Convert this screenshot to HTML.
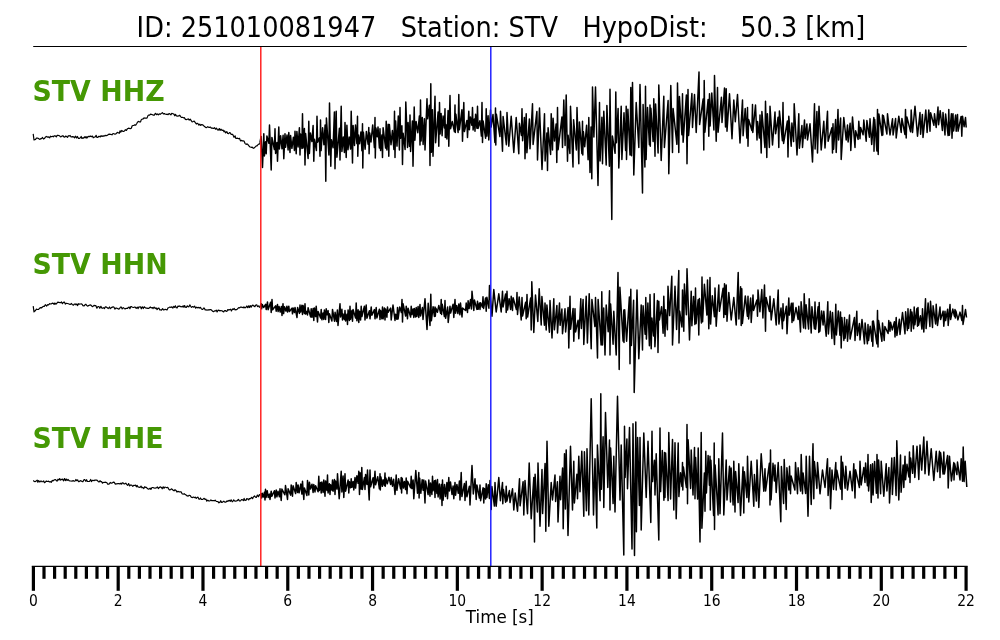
<!DOCTYPE html>
<html><head><meta charset="utf-8"><title>Seismogram</title>
<style>
html,body{margin:0;padding:0;background:#fff;overflow:hidden;}
svg{display:block;will-change:transform;}
text{font-family:"DejaVu Sans","Liberation Sans",sans-serif;fill:#000;}
svg{-webkit-font-smoothing:antialiased;}
.tr{fill:none;stroke:#000;stroke-width:1.5;stroke-linejoin:round;stroke-linecap:butt;}
.q{stroke-width:1.2;}
.lb{font-weight:bold;fill:#459804;font-size:28.1px;}
</style></head>
<body>
<svg width="1000" height="640" viewBox="0 0 1000 640">
<rect width="1000" height="640" fill="#fff"/>
<!-- title -->
<text id="title" transform="translate(136.6,37) scale(0.9253,1)" font-size="27.7px" xml:space="preserve">ID: 251010081947   Station: STV   HypoDist:    50.3 [km]</text>
<!-- top spine -->
<line x1="33.2" x2="966.8" y1="46.5" y2="46.5" stroke="#000" stroke-width="1.15"/>
<!-- traces -->
<polyline class="tr q" points="33.2,133.8 34.0,140.0 35.5,139.5 36.4,138.1 37.3,138.0 38.1,138.3 38.8,138.7 39.7,139.4 40.7,138.7 41.6,138.6 42.5,137.5 43.6,139.0 44.7,138.2 45.6,136.9 46.4,136.4 47.4,137.1 48.5,136.9 49.7,137.8 50.4,136.2 51.5,136.7 52.6,136.3 53.3,136.8 54.4,135.8 55.1,135.8 56.3,136.9 57.0,135.6 57.8,135.2 58.8,135.5 59.8,136.1 60.6,136.8 61.3,136.6 62.1,136.1 62.9,135.7 64.0,137.0 64.8,137.2 65.6,136.0 66.7,136.6 67.5,137.4 68.3,135.7 69.3,136.0 70.1,135.5 70.9,136.8 71.7,136.9 72.6,136.6 73.7,136.8 74.6,137.8 75.4,136.2 76.5,137.9 77.4,136.5 78.4,138.4 79.2,138.5 80.3,137.7 81.2,136.5 81.9,138.5 82.7,137.9 83.5,138.1 84.5,136.8 85.2,137.8 86.0,136.6 86.9,138.1 87.9,136.7 89.0,136.4 89.7,136.6 90.6,136.0 91.4,136.7 92.4,136.1 93.2,137.8 94.4,137.1 95.4,136.7 96.1,135.3 96.8,137.3 97.9,137.3 98.6,136.4 99.5,136.4 100.3,136.9 101.1,135.7 102.1,136.4 103.1,135.8 104.2,136.1 105.0,135.4 106.2,135.7 107.0,135.4 108.1,134.7 109.1,134.1 110.1,134.4 110.8,134.4 112.0,134.8 113.0,133.5 114.0,133.8 114.9,134.2 115.6,133.9 116.4,133.4 117.3,132.4 118.3,132.7 119.3,133.3 120.1,130.8 120.9,132.1 121.7,130.5 122.8,131.3 123.7,131.5 124.6,130.6 125.4,129.7 126.4,130.4 127.5,128.7 128.5,128.2 129.2,128.3 130.3,128.6 131.3,128.2 132.2,125.8 133.1,125.5 133.9,125.3 134.8,124.9 135.7,125.2 136.8,123.5 137.6,122.0 138.6,121.4 139.7,122.0 140.5,122.0 141.2,119.9 142.1,119.1 143.2,118.9 144.0,117.9 144.9,118.2 145.9,118.1 147.0,118.1 148.0,115.6 148.9,115.0 149.6,115.2 150.6,114.1 151.5,114.4 152.5,114.7 153.4,115.2 154.3,115.1 155.4,113.3 156.6,114.7 157.3,113.9 158.3,114.9 159.2,113.9 160.3,114.3 161.4,113.4 162.4,112.6 163.4,114.0 164.4,113.6 165.2,114.0 166.3,114.4 167.3,114.2 168.1,114.7 169.2,113.5 169.9,113.9 170.9,114.9 171.8,113.3 172.9,113.7 173.9,114.1 174.8,115.8 175.5,114.4 176.5,116.0 177.6,116.2 178.7,115.9 179.8,115.2 180.6,116.6 181.4,117.4 182.4,117.3 183.5,117.8 184.3,117.7 185.4,119.4 186.2,119.6 187.4,119.2 188.3,118.9 189.2,120.0 190.2,119.2 191.4,120.8 192.2,121.9 193.2,121.5 194.2,121.0 195.1,122.3 196.3,124.0 197.1,123.3 197.9,123.6 198.9,125.2 199.8,124.2 200.6,125.3 201.7,124.6 202.8,124.8 203.6,125.7 204.6,126.4 205.4,127.3 206.2,127.7 206.9,127.3 207.8,126.7 208.7,127.4 209.6,127.4 210.5,127.0 211.3,128.2 212.3,128.1 213.4,128.4 214.5,127.7 215.5,129.2 216.6,128.2 217.4,129.8 218.2,130.2 219.3,128.6 220.1,130.4 221.0,129.2 222.0,130.4 223.1,130.1 224.0,131.8 224.7,130.9 225.7,133.0 226.8,131.6 227.7,133.5 228.7,133.7 229.5,132.5 230.2,132.8 231.2,134.5 232.1,134.2 232.9,134.8 234.0,137.3 235.1,135.8 235.8,138.3 236.7,138.4 237.6,138.2 238.5,138.7 239.5,138.3 240.5,140.9 241.3,140.4 242.3,140.9 243.1,140.8 244.0,141.0 245.1,143.6 246.1,144.4 247.1,143.9 248.1,144.8 249.2,146.2 250.1,147.0 251.1,147.3 252.2,147.1 253.3,148.3 254.3,147.9 255.3,146.9 256.3,145.9 257.2,145.8 257.9,144.7 258.9,144.1 259.7,143.9 260.0,142.5"/><polyline class="tr" points="260.0,142.5 261.1,136.4 262.5,167.5 263.8,133.8 264.4,155.9 265.6,141.7 266.2,153.8 266.9,136.0 268.9,143.3 269.5,125.0 271.2,170.0 271.9,137.5 274.4,149.6 275.0,128.8 275.6,153.4 276.9,142.5 277.5,161.2 278.8,127.0 279.4,148.9 280.6,135.7 282.0,148.8 283.1,135.3 283.8,158.8 285.0,133.8 285.6,147.2 287.0,135.1 288.1,150.0 288.8,132.5 290.0,152.5 290.6,135.6 291.9,148.3 293.4,137.2 294.4,150.4 295.0,131.2 296.2,153.8 296.9,131.5 298.1,146.9 299.4,127.8 300.0,155.0 300.6,134.1 301.9,148.5 302.5,113.8 303.1,148.0 304.4,128.5 305.0,165.0 305.6,133.5 308.1,158.4 308.8,121.2 309.4,153.4 310.4,133.1 311.9,141.5 313.1,125.5 313.8,161.2 314.4,139.2 316.4,150.6 317.0,116.2 317.6,142.3 319.4,137.8 320.0,156.2 320.5,120.0 321.1,150.6 322.6,127.7 323.9,144.8 325.1,125.0 325.8,181.2 326.4,118.0 328.9,155.0 329.5,103.0 330.8,166.2 331.4,139.7 333.1,147.8 334.4,112.1 335.0,168.8 336.2,111.2 336.9,157.3 339.4,128.3 340.0,160.0 341.2,106.2 341.9,151.4 343.3,137.1 344.4,152.5 345.0,122.5 346.2,157.5 346.9,125.3 348.0,149.8 349.2,137.0 350.6,149.1 351.2,111.2 352.5,163.0 353.1,125.4 354.5,145.4 355.5,125.0 356.9,143.6 357.5,116.2 357.8,156.2 358.4,134.9 359.5,143.7 360.9,132.0 361.9,150.8 362.5,123.8 362.8,168.0 363.4,132.3 365.1,149.3 366.4,131.4 368.1,144.2 368.8,127.5 369.1,153.8 369.7,132.9 371.0,142.0 372.7,124.9 374.4,147.6 375.0,117.5 375.3,158.0 375.9,127.9 377.3,136.8 378.0,127.1 379.4,147.9 380.0,128.8 380.6,150.6 381.9,134.9 382.5,157.5 383.1,127.7 385.6,148.1 386.2,121.2 386.9,150.0 388.1,124.2 388.8,156.2 389.4,124.5 391.0,144.7 392.4,130.6 393.9,149.4 394.5,111.2 395.0,157.5 395.6,120.9 397.0,146.1 398.3,116.0 399.4,150.1 400.0,107.5 400.6,138.2 401.9,125.8 402.5,164.5 403.1,133.2 405.1,149.5 405.8,102.0 407.5,147.5 408.1,122.5 409.4,146.2 410.0,115.0 410.6,151.5 412.4,120.9 413.0,166.2 414.2,107.0 414.9,140.3 416.1,121.4 417.8,132.7 419.4,115.9 420.0,145.0 420.5,100.0 421.1,141.0 422.3,117.5 423.1,144.4 424.4,118.8 425.0,150.0 427.0,98.8 427.6,118.8 429.4,105.2 430.0,165.5 430.8,83.8 431.4,152.2 432.4,109.7 433.0,156.2 435.0,96.2 435.6,142.7 438.1,112.1 438.8,146.2 439.5,102.5 440.1,134.0 441.1,113.6 442.1,135.7 443.1,115.9 444.4,128.0 445.0,108.8 445.3,137.5 445.9,124.6 446.9,138.9 448.1,110.5 448.8,146.2 450.0,95.5 450.6,128.7 452.3,121.6 454.4,131.5 455.0,105.0 455.3,132.5 455.9,114.3 458.1,132.5 458.8,94.5 459.4,129.7 461.9,109.8 462.5,141.2 463.8,102.5 464.4,131.5 466.9,120.5 467.5,137.5 468.8,111.2 469.4,129.7 470.4,117.0 471.9,125.3 472.5,107.5 473.1,130.0 474.4,118.9 475.0,131.2 475.6,114.2 476.9,128.2 477.5,106.2 478.1,128.4 479.9,120.7 481.4,136.1 482.0,102.5 482.5,142.5 483.1,120.9 485.6,138.2 486.2,108.8 486.9,136.1 488.1,115.7 488.8,140.0 490.5,110.0 491.1,127.1 493.0,114.5 494.9,142.5 495.5,108.0 495.8,145.0 496.4,114.3 499.9,136.6 500.5,111.2 502.5,151.2 503.1,116.5 506.4,144.7 507.0,112.5 508.8,146.2 511.2,116.2 513.8,152.5 516.2,117.5 518.8,153.8 519.4,123.3 521.4,135.5 522.0,108.8 522.6,140.8 524.4,117.4 525.0,158.8 526.2,113.8 526.9,152.8 529.4,118.9 530.0,148.8 532.5,103.8 533.1,144.4 536.9,111.4 537.5,160.0 539.5,108.0 542.0,169.5 544.5,113.8 545.1,160.9 546.9,133.0 547.5,170.5 548.1,127.8 550.6,154.5 551.2,113.8 552.5,150.0 553.1,118.2 554.5,140.9 556.1,124.1 556.8,162.5 557.5,107.5 558.1,149.7 561.9,117.0 562.5,147.5 563.8,100.0 565.1,145.5 566.2,95.0 567.5,161.2 568.1,135.3 569.9,153.5 570.5,106.2 573.0,167.0 573.6,119.8 576.4,149.9 577.0,107.5 578.8,163.8 579.4,121.9 581.9,153.6 582.5,121.2 582.8,155.0 583.4,131.7 584.7,146.8 586.6,125.3 588.1,159.8 588.8,117.5 590.0,172.5 591.0,126.9 591.8,178.8 592.5,87.0 593.9,137.1 595.5,87.0 598.0,185.5 599.5,102.5 600.1,161.0 601.9,117.2 602.5,163.8 603.8,111.2 606.2,165.0 606.9,105.6 609.4,166.2 610.0,89.2 611.8,219.5 612.4,136.0 615.1,153.3 615.8,92.0 616.4,142.7 618.1,108.5 618.8,168.0 621.2,106.2 621.9,159.4 624.0,112.8 625.6,150.4 626.2,106.2 626.5,159.5 627.9,109.2 630.0,155.0 630.8,87.5 631.5,155.8 632.5,82.5 633.8,175.0 636.2,102.5 638.8,147.5 640.0,84.5 642.5,193.0 643.1,104.6 644.9,167.1 645.5,86.2 646.1,159.5 647.5,107.4 649.4,144.7 650.0,105.0 650.3,146.2 650.9,108.3 653.1,141.5 653.8,98.8 655.0,156.2 655.6,104.1 658.1,153.0 658.8,85.0 661.2,160.5 663.8,96.2 664.4,147.4 668.1,100.5 668.8,173.8 670.8,85.5 672.5,152.5 673.1,108.5 676.9,144.3 677.5,83.0 678.8,152.5 679.4,96.4 681.9,134.7 682.5,93.8 683.1,142.2 686.4,94.9 687.0,163.8 688.0,89.5 688.6,135.4 691.9,93.5 692.5,127.5 694.5,94.5 696.2,132.5 699.0,72.0 699.6,124.6 703.1,99.0 703.8,150.0 704.2,80.5 704.9,132.3 708.1,99.5 708.8,136.2 709.5,93.8 710.1,126.0 711.8,93.1 713.9,130.0 714.5,75.5 716.2,141.2 717.5,87.5 718.1,132.3 721.4,97.3 722.0,122.5 724.5,88.0 725.5,126.9 726.2,88.8 727.0,131.2 729.5,93.8 732.0,138.8 733.8,100.0 735.3,121.7 737.5,94.5 740.0,143.0 742.5,100.0 743.1,135.7 745.2,108.5 746.9,138.1 747.5,107.5 748.0,146.2 748.6,119.5 751.9,130.5 752.5,104.5 752.8,132.5 755.5,105.0 757.0,140.0 757.6,121.6 759.4,138.1 760.0,115.0 761.2,153.0 761.9,111.6 764.9,147.5 765.5,101.2 766.8,157.5 767.4,113.7 769.4,147.4 770.0,106.2 772.5,145.0 775.0,112.0 775.6,133.7 778.1,117.2 778.8,147.5 779.4,110.9 782.4,140.7 783.0,102.5 783.6,143.5 787.4,120.9 788.0,157.0 788.8,116.2 791.2,146.2 791.9,123.1 793.6,141.6 794.2,103.8 797.0,155.0 798.8,113.8 799.4,148.2 801.9,125.6 802.5,147.5 804.5,120.0 805.1,138.6 806.9,123.9 807.5,140.0 810.0,123.8 812.5,162.0 814.5,103.8 815.1,149.0 816.9,111.6 817.5,153.0 819.0,106.2 821.2,150.0 823.8,121.2 825.0,148.0 827.5,111.2 828.1,141.3 831.9,127.7 832.5,153.0 833.0,123.8 833.6,149.3 835.6,119.5 836.2,152.5 838.0,109.5 838.6,139.9 840.6,117.9 841.2,159.5 843.8,117.5 846.2,140.0 847.5,125.0 848.1,141.9 850.1,123.3 850.8,150.5 852.5,117.0 855.0,147.5 855.6,130.7 858.1,139.4 858.8,121.2 860.0,138.8 860.6,127.5 863.1,134.8 863.8,120.0 866.2,141.2 866.9,120.5 869.4,137.2 870.0,118.8 871.7,144.4 873.8,117.5 874.0,151.2 874.7,119.6 876.9,151.0 877.5,109.5 878.2,154.5 878.9,114.0 881.9,135.4 882.5,115.0 882.8,135.0 883.4,115.7 886.9,134.0 887.5,113.8 890.0,135.0 892.5,118.8 893.1,135.0 895.6,118.5 896.2,138.0 898.8,116.2 901.2,132.5 901.9,118.5 904.9,134.4 905.5,109.5 906.2,138.0 906.9,116.9 910.6,131.8 911.2,110.0 912.5,132.5 915.0,106.2 917.5,136.2 920.0,112.5 920.6,134.3 922.4,114.4 923.0,137.5 925.8,110.0 927.1,132.4 928.8,110.0 930.0,131.2 930.6,112.7 933.9,125.2 934.5,113.8 936.2,127.5 938.0,107.0 938.6,124.7 940.2,110.7 942.4,130.5 943.0,112.5 945.0,135.0 945.6,114.1 948.1,135.6 948.8,109.5 949.4,135.2 951.4,113.8 952.0,138.2 953.0,113.8 953.6,130.9 955.6,115.1 956.2,131.2 957.5,114.5 958.1,131.2 961.1,116.4 961.8,136.2 962.5,116.2 964.1,126.7 965.5,117.5 966.2,127.5"/>
<polyline class="tr q" points="33.2,306.2 34.0,311.8 35.5,310.5 36.4,309.2 37.5,309.5 38.6,309.3 39.7,308.1 40.8,307.6 41.6,307.9 42.4,307.0 43.5,306.3 44.3,306.5 45.3,304.7 46.0,305.3 46.7,306.0 47.7,304.7 48.6,304.8 49.7,303.6 50.5,304.0 51.4,303.8 52.3,303.1 53.3,303.3 54.1,304.4 54.9,303.0 55.8,304.2 56.9,303.2 57.8,302.1 58.9,302.3 59.9,302.7 60.7,302.7 61.5,301.9 62.4,303.7 63.4,302.4 64.4,302.1 65.3,304.1 66.4,303.3 67.5,303.5 68.4,303.8 69.6,304.3 70.5,304.3 71.5,303.5 72.5,304.8 73.5,305.2 74.2,304.2 75.2,303.9 76.0,304.8 76.9,303.9 77.6,305.6 78.5,303.7 79.3,304.1 80.4,304.0 81.2,303.9 82.1,304.3 82.9,305.6 84.1,306.0 84.8,304.9 85.9,304.2 86.6,305.4 87.5,306.1 88.5,305.6 89.4,305.2 90.2,304.9 91.2,305.3 92.3,306.6 93.0,306.4 94.0,305.4 94.9,305.6 95.9,305.7 96.9,308.2 98.0,306.5 98.9,306.5 99.8,308.3 100.9,306.3 101.7,307.9 102.5,308.3 103.6,307.7 104.5,308.5 105.4,306.9 106.2,306.9 107.3,307.7 108.3,308.5 109.5,307.0 110.3,308.7 111.4,307.6 112.4,307.1 113.2,306.8 114.0,307.3 115.0,309.1 115.7,308.1 116.8,308.2 117.8,308.6 118.5,309.1 119.5,308.7 120.5,307.0 121.3,307.1 122.2,308.9 123.3,307.6 124.3,308.4 125.1,308.9 126.3,308.3 127.4,308.5 128.4,307.3 129.2,307.1 129.9,308.7 130.8,306.5 131.6,306.7 132.5,307.2 133.3,307.5 134.2,307.2 135.2,307.1 136.2,308.4 137.3,307.2 138.0,308.6 139.0,306.9 139.7,307.0 140.5,306.8 141.3,308.8 142.3,306.8 143.3,308.5 144.2,306.8 145.0,307.5 146.1,308.1 147.1,308.2 147.8,308.4 148.8,308.4 149.7,307.5 150.4,307.0 151.2,308.0 152.2,307.5 153.1,308.5 154.1,307.1 155.2,308.5 156.1,307.8 157.1,309.6 157.9,308.4 158.9,308.0 159.8,309.9 160.7,309.8 161.5,310.1 162.6,308.7 163.5,309.9 164.5,309.6 165.3,309.3 166.2,309.7 167.0,309.9 168.0,307.9 168.9,307.5 169.9,307.0 170.9,307.5 171.9,306.8 172.9,308.0 173.7,306.4 174.6,307.4 175.4,305.8 176.3,307.7 177.1,307.9 178.0,306.0 178.8,306.4 179.7,305.9 180.4,306.6 181.2,306.5 182.1,307.0 183.1,305.8 183.9,307.3 184.6,305.5 185.3,307.1 186.3,307.3 187.3,305.8 188.1,306.7 188.9,306.8 189.8,304.9 190.7,306.3 191.5,307.3 192.6,306.5 193.7,307.2 194.6,306.1 195.7,308.2 196.7,307.1 197.4,307.8 198.5,307.4 199.3,308.1 200.4,307.3 201.2,308.6 201.9,309.2 202.7,309.5 203.6,308.1 204.4,308.2 205.2,309.9 206.2,309.9 207.1,310.2 208.1,309.7 208.8,310.1 209.6,309.7 210.5,309.5 211.6,310.1 212.7,311.3 213.4,311.7 214.5,310.9 215.6,310.9 216.3,310.2 217.1,311.9 218.2,310.2 219.1,310.3 219.9,310.9 220.8,310.5 221.8,310.8 222.9,311.4 223.7,311.9 224.6,310.5 225.4,310.5 226.2,311.4 227.0,311.2 227.8,309.5 228.7,310.1 229.8,309.5 230.6,309.2 231.4,311.0 232.5,309.0 233.2,309.5 234.2,308.5 235.1,309.9 235.8,309.6 236.8,309.6 237.7,308.7 238.7,307.7 239.6,307.8 240.4,307.2 241.2,307.1 242.1,307.3 243.1,307.8 243.9,306.8 244.9,307.9 245.9,307.3 246.8,306.0 247.7,307.7 248.5,305.9 249.4,307.5 250.2,305.6 251.1,307.3 252.0,305.6 253.0,305.1 253.9,306.1 254.9,306.6 255.8,305.0 256.7,304.8 257.5,306.6 258.6,305.9 259.4,307.3 260.0,307.0"/><polyline class="tr" points="260.0,307.0 261.2,303.8 261.6,308.8 262.2,304.4 263.6,307.5 265.6,304.3 266.2,309.5 267.5,302.0 268.1,309.7 270.6,302.3 271.2,312.5 272.0,299.5 272.6,309.7 275.6,305.9 276.2,311.2 277.5,304.5 278.1,311.6 279.1,306.6 280.2,312.0 281.4,306.5 282.0,315.5 283.0,303.8 283.6,313.6 284.5,306.8 285.9,311.1 286.9,306.2 287.5,312.0 288.8,306.2 289.4,311.6 291.9,308.2 292.5,313.8 293.1,307.9 294.4,312.5 295.0,307.5 297.0,317.5 297.6,307.5 299.4,313.4 300.0,305.0 300.6,312.1 301.9,305.3 302.5,314.5 303.1,305.6 304.4,313.5 305.0,303.8 305.6,314.1 306.9,311.4 307.5,315.0 308.1,307.8 310.6,316.9 311.2,308.8 311.9,317.3 313.1,308.6 313.8,320.5 314.4,307.9 315.6,316.6 316.2,306.2 317.5,322.0 318.1,311.6 320.6,318.1 321.2,309.5 321.9,319.8 323.1,312.9 323.8,319.5 324.4,310.0 325.6,319.4 326.2,308.8 326.9,314.8 328.1,310.6 328.8,322.5 329.4,313.8 331.9,321.0 332.5,309.5 334.5,321.2 335.1,312.3 336.5,321.5 337.4,309.9 338.0,325.5 340.0,303.8 340.6,316.9 341.9,309.3 342.5,320.0 343.1,314.1 344.4,319.5 345.0,310.5 345.6,320.9 346.9,314.3 347.5,324.5 348.1,309.9 349.4,320.4 350.0,306.2 350.6,319.2 351.9,310.5 352.5,321.2 353.1,309.6 355.6,318.1 356.2,303.0 356.9,320.8 358.1,309.8 358.8,322.5 359.4,311.2 360.6,320.0 361.2,306.2 361.9,316.5 364.4,306.2 365.0,320.0 366.2,305.0 366.9,318.3 369.4,310.8 370.0,318.8 371.2,307.0 371.9,315.3 374.4,309.6 375.0,318.8 376.2,307.5 376.9,317.9 379.4,309.2 380.0,319.5 380.6,310.4 381.9,318.8 382.5,307.0 383.1,318.8 384.4,307.9 385.0,320.0 385.6,308.9 386.9,317.2 387.5,307.0 388.1,312.3 390.6,308.1 391.2,320.0 393.0,305.0 395.0,320.5 395.6,314.2 396.9,319.2 397.5,307.5 398.1,318.9 399.7,306.9 401.4,312.6 402.0,299.5 402.5,322.0 403.1,303.8 405.6,316.0 406.2,306.2 407.5,318.8 408.1,308.2 410.6,317.1 411.2,306.2 411.9,314.6 413.1,308.9 413.8,317.5 414.4,308.5 415.6,316.9 416.2,307.5 416.9,316.5 418.1,306.6 418.8,317.5 420.0,304.5 420.6,315.9 422.4,307.6 423.0,319.5 425.0,298.8 427.0,329.5 428.2,303.2 430.0,325.5 430.8,294.2 431.4,320.7 433.1,306.7 434.4,316.4 435.0,307.0 435.3,316.2 435.9,308.3 437.4,312.3 438.8,305.4 440.6,313.3 441.2,299.5 441.6,314.5 442.2,304.2 444.4,316.6 445.0,300.5 445.6,318.3 447.6,307.1 448.2,322.5 450.0,306.2 450.6,313.1 453.1,304.3 453.8,317.5 455.0,299.5 455.6,313.2 456.7,305.6 457.9,313.6 458.8,304.0 459.9,314.8 460.5,303.0 462.0,317.0 462.6,308.1 465.6,310.5 466.2,303.0 467.5,312.5 468.1,300.7 469.1,308.6 470.5,299.6 471.4,309.0 472.0,291.2 473.8,310.5 474.4,300.0 476.9,309.4 477.5,301.2 478.1,309.3 479.4,303.1 480.0,309.5 480.6,302.8 482.4,307.1 483.0,296.8 483.6,308.4 485.6,297.9 486.2,311.2 486.9,297.3 488.9,308.2 489.5,285.5 492.0,316.2 493.8,289.5 496.2,312.0 498.8,293.8 501.2,312.0 502.5,291.2 503.1,306.9 505.6,293.9 506.2,312.5 507.0,291.2 507.6,309.9 509.1,298.7 510.6,309.4 511.2,296.2 512.5,310.5 513.1,297.8 516.4,309.5 517.0,292.5 517.5,314.5 519.2,296.9 521.2,320.0 522.0,297.5 522.6,315.9 525.6,302.3 526.2,318.8 527.0,294.5 527.6,317.1 530.6,298.0 531.2,330.0 531.8,281.8 533.8,332.5 535.5,295.0 537.8,321.5 539.2,288.8 541.2,325.0 541.9,296.5 544.4,325.2 545.0,303.0 546.2,330.0 546.9,304.9 549.4,332.3 550.0,300.5 552.0,338.0 553.8,298.8 554.4,329.8 556.9,305.4 557.5,333.0 559.5,303.0 560.1,325.3 561.9,309.1 562.5,333.8 565.0,308.8 565.6,332.0 568.1,307.5 568.8,348.0 570.0,296.2 570.6,329.2 573.1,308.4 573.8,341.2 575.0,308.8 575.6,331.9 578.1,320.2 578.8,338.8 580.8,298.8 581.4,328.4 583.1,299.4 583.8,344.5 586.2,296.2 587.4,342.9 589.2,293.8 591.2,348.8 591.9,299.4 594.9,326.6 595.5,297.5 597.5,358.0 598.1,299.4 601.1,344.9 601.8,291.8 602.5,345.0 603.7,308.0 605.0,355.0 606.2,305.0 608.2,331.7 609.5,290.8 610.0,355.0 610.6,304.0 613.1,344.2 613.8,311.2 616.2,355.0 618.0,272.5 619.2,369.5 619.9,287.2 623.1,341.1 623.8,310.0 624.0,342.5 624.7,309.8 626.6,341.2 629.4,296.9 630.0,363.8 630.8,289.2 631.4,345.4 633.6,300.2 634.2,392.5 637.0,290.0 638.8,358.8 641.2,305.0 642.5,350.0 643.1,305.7 645.1,334.2 645.8,297.5 646.4,339.1 647.9,303.0 649.4,345.8 650.0,294.5 651.2,348.8 651.9,318.0 653.6,335.9 654.2,293.8 654.9,346.8 657.4,300.6 658.0,352.5 658.8,301.2 659.4,320.0 661.6,306.7 663.1,333.2 663.8,296.2 665.0,336.2 665.6,309.7 667.4,329.8 668.0,286.2 669.6,315.6 671.8,276.2 672.5,345.0 675.0,286.2 676.6,329.5 678.8,270.5 679.0,343.0 679.7,311.3 681.9,327.0 682.5,290.0 683.8,331.2 684.4,284.1 686.4,314.8 687.0,268.8 689.5,340.0 691.2,291.2 691.9,325.7 693.5,296.4 694.9,324.4 695.5,288.0 696.1,323.6 698.1,299.8 698.8,335.0 699.4,298.6 701.4,322.9 702.0,277.0 702.6,321.8 704.4,284.2 706.9,315.1 707.5,280.0 708.8,328.8 710.0,277.5 710.6,324.1 712.3,295.7 714.4,316.7 715.0,288.0 716.2,326.2 718.8,285.0 719.4,311.3 723.1,288.2 723.8,317.5 724.5,283.8 725.4,314.5 726.2,285.0 727.0,321.2 728.8,292.5 731.2,320.0 733.8,297.5 736.2,325.0 738.2,272.5 738.9,318.9 740.6,286.8 741.2,325.5 741.8,288.8 742.4,323.5 745.3,295.9 747.4,316.2 748.0,296.2 748.6,318.9 750.6,298.1 751.2,322.5 753.0,295.0 753.6,310.4 756.9,299.9 757.5,316.2 758.0,290.0 759.9,311.8 761.8,289.5 762.9,317.9 764.5,285.0 765.5,331.2 766.1,297.5 769.4,311.4 770.0,296.2 771.2,320.0 773.8,298.8 776.2,325.0 778.2,290.0 778.9,324.1 781.0,308.1 782.4,328.7 783.0,303.8 783.6,320.7 786.4,306.2 787.0,333.8 788.8,298.0 789.4,315.1 791.4,303.3 792.0,322.5 793.0,303.0 793.6,320.7 796.0,307.5 798.1,319.4 798.8,306.2 800.5,332.0 801.1,301.7 803.6,327.9 804.2,293.8 805.5,328.8 806.1,304.8 808.6,329.1 809.2,298.8 811.2,333.0 811.9,306.7 814.4,328.7 815.0,302.0 815.6,329.2 818.1,306.8 818.8,332.5 819.2,302.5 819.9,331.3 821.6,311.0 823.1,325.0 823.8,311.2 826.2,336.2 827.8,301.8 828.4,334.0 830.3,311.3 831.9,338.5 832.5,312.5 834.5,344.5 835.8,304.2 836.4,334.9 838.3,310.9 839.9,335.3 840.5,312.0 841.2,348.0 841.9,317.6 843.9,340.4 844.5,317.5 845.1,338.3 846.9,319.6 847.5,341.2 849.5,315.0 850.1,339.0 854.4,317.6 855.0,340.5 856.8,311.2 857.4,335.5 859.4,323.6 860.0,340.0 862.0,319.5 864.5,343.8 865.1,323.1 867.4,343.8 868.0,324.5 868.6,340.5 870.2,326.3 871.9,341.5 872.5,321.2 872.8,346.2 873.4,321.1 876.9,343.8 877.5,310.5 878.0,347.0 878.6,320.6 881.9,341.3 882.5,323.0 884.2,340.5 884.9,326.5 888.1,333.5 888.8,320.5 890.0,331.2 890.6,322.3 892.3,329.9 894.4,321.8 895.0,337.0 896.2,317.5 896.9,335.5 899.4,319.2 900.0,334.5 902.5,312.5 905.0,333.8 905.6,311.8 907.4,330.4 908.0,308.8 908.6,328.3 910.6,309.4 911.2,331.2 911.9,311.9 913.6,328.7 914.2,307.0 914.9,324.7 916.9,308.5 917.5,326.2 918.0,307.5 918.6,325.2 920.4,315.8 921.9,329.1 922.5,308.8 923.8,332.0 925.5,298.8 926.1,328.6 928.1,302.9 929.9,326.5 930.5,301.2 932.5,327.5 933.1,305.8 935.6,323.9 936.2,304.2 937.5,325.5 940.0,307.0 940.6,319.5 943.1,311.1 943.8,326.2 945.0,311.2 945.6,320.6 947.6,309.3 948.2,325.5 950.0,304.5 950.6,319.5 952.8,309.1 954.4,316.2 955.0,309.5 955.3,318.0 955.9,310.9 957.9,319.9 960.0,312.1 961.9,320.6 962.5,305.5 963.0,324.5 965.5,309.5 966.5,317.5"/>
<polyline class="tr q" points="33.2,480.5 34.1,481.2 35.0,481.6 36.2,481.0 37.2,480.1 37.9,482.3 38.7,480.6 39.8,482.0 40.6,481.1 41.4,481.1 42.1,481.8 42.9,481.5 43.7,480.9 44.4,482.7 45.5,482.0 46.2,481.0 47.0,481.5 47.7,481.4 48.5,481.2 49.5,481.9 50.4,481.6 51.3,482.3 52.2,480.4 53.1,480.9 54.1,480.0 55.2,479.5 56.2,480.3 57.0,481.2 58.0,479.2 59.0,480.0 59.7,478.6 60.6,480.1 61.6,479.4 62.5,479.1 63.6,480.8 64.5,478.6 65.4,480.6 66.2,479.0 67.0,480.5 68.0,479.5 69.0,480.7 70.1,481.0 71.0,481.0 72.1,481.2 73.1,480.6 74.1,481.3 75.1,481.0 75.9,479.5 76.7,480.7 77.6,479.8 78.4,481.6 79.2,481.6 80.2,480.7 81.4,481.0 82.1,481.6 82.9,481.6 84.0,479.7 84.7,479.5 85.8,481.3 86.6,479.7 87.4,481.4 88.5,481.5 89.6,481.3 90.7,479.5 91.4,481.6 92.4,480.3 93.1,480.3 94.0,480.7 94.9,480.0 95.6,480.2 96.4,480.1 97.3,480.4 98.3,481.6 99.2,482.0 100.0,480.7 100.8,481.7 101.6,481.6 102.5,483.2 103.2,482.5 104.1,482.3 105.1,482.3 105.8,482.2 106.9,482.7 107.7,484.2 108.7,484.2 109.5,483.8 110.2,482.5 111.3,483.1 112.4,482.8 113.5,482.1 114.4,482.4 115.2,484.1 116.1,483.9 116.9,483.8 118.1,483.5 118.9,483.6 120.0,484.0 120.9,483.1 121.6,484.1 122.4,482.9 123.1,482.9 124.0,483.8 124.8,483.8 125.8,483.2 126.6,484.3 127.7,485.4 128.6,483.6 129.7,485.9 130.8,484.9 131.7,485.2 132.8,486.4 133.7,485.3 134.5,485.5 135.5,485.1 136.4,486.8 137.2,485.4 138.0,487.0 138.9,487.1 140.0,487.5 141.0,486.1 141.9,487.8 142.7,487.4 143.8,488.5 144.7,486.7 145.4,487.3 146.4,487.4 147.4,488.6 148.4,489.2 149.3,488.9 150.1,488.2 150.9,489.4 152.0,487.5 153.0,487.5 153.9,488.0 155.0,488.2 155.9,487.9 156.7,487.6 157.5,487.0 158.4,488.6 159.4,487.4 160.6,486.9 161.4,487.4 162.2,488.8 163.2,486.8 164.0,488.3 164.9,487.0 165.7,487.3 166.7,487.6 167.7,487.3 168.6,488.9 169.4,489.9 170.6,489.7 171.4,488.8 172.4,489.5 173.2,490.3 174.0,490.8 175.0,489.7 176.0,490.4 176.9,492.0 178.0,491.4 179.0,491.8 180.2,491.8 181.2,491.9 182.1,493.8 183.2,494.2 184.2,493.7 185.2,494.6 186.1,495.1 187.2,495.9 188.2,496.1 189.2,495.3 190.2,495.6 191.3,497.2 192.4,497.6 193.4,497.0 194.3,497.6 195.4,497.2 196.2,498.4 197.3,497.3 198.0,497.2 199.0,499.2 199.8,499.2 200.5,498.0 201.5,499.5 202.4,499.5 203.2,499.0 204.2,498.3 205.0,499.3 206.0,499.1 206.8,501.2 207.8,500.1 208.8,501.0 209.9,500.9 210.9,499.9 211.8,500.7 212.6,500.7 213.7,500.5 214.4,500.8 215.2,500.1 216.3,501.5 217.0,501.5 217.8,501.5 218.9,502.8 219.8,502.4 220.7,500.7 221.6,502.4 222.7,502.1 223.8,501.1 224.8,502.1 225.9,502.1 227.0,500.8 227.9,501.4 228.6,500.6 229.5,500.3 230.3,501.3 231.1,499.8 232.2,501.8 233.0,501.1 233.7,499.9 234.5,500.9 235.5,501.2 236.5,501.0 237.6,500.4 238.4,499.4 239.4,500.8 240.4,501.0 241.5,499.6 242.3,499.6 243.4,500.6 244.1,498.4 245.0,500.5 246.1,500.2 246.8,498.6 247.9,499.0 248.7,499.9 249.4,498.6 250.5,498.7 251.6,497.3 252.6,498.7 253.3,497.1 254.5,496.0 255.5,497.1 256.3,497.4 257.4,495.1 258.5,496.7 259.4,494.5 260.0,495.5"/><polyline class="tr" points="260.0,495.5 261.2,493.8 261.6,498.0 262.2,493.2 263.3,497.0 264.4,492.3 265.0,500.0 265.5,489.2 266.1,497.5 267.2,490.7 268.2,497.4 269.4,494.1 270.0,499.5 271.2,491.2 271.9,496.3 274.4,490.7 275.0,498.0 276.2,490.0 276.9,496.8 278.0,491.3 279.4,496.8 280.0,488.8 281.2,500.5 281.9,489.1 284.9,494.8 285.5,485.5 287.5,499.5 288.1,488.7 290.6,495.1 291.2,485.0 292.5,496.2 293.1,485.8 295.6,493.6 296.2,482.5 297.5,492.5 298.1,484.9 299.1,492.8 300.8,484.1 301.9,494.1 302.5,481.2 303.8,499.5 304.4,487.9 306.9,495.5 307.5,480.5 308.8,495.0 309.4,482.2 310.5,489.1 312.0,484.2 313.1,492.4 313.8,484.5 315.0,492.0 315.6,485.7 318.1,491.8 318.8,476.2 319.4,490.5 320.6,482.6 321.2,493.0 321.9,481.9 323.1,492.4 323.8,480.0 325.0,496.2 325.6,480.9 326.9,490.4 327.5,475.0 328.1,493.0 329.4,483.7 330.0,494.5 330.6,484.7 331.9,490.2 332.5,480.0 333.1,491.2 334.4,479.6 335.0,494.5 335.6,481.0 336.9,489.1 337.5,473.8 339.2,498.8 341.2,471.2 341.9,492.0 343.1,476.1 343.8,497.5 345.0,473.8 345.6,491.2 348.1,480.1 348.8,493.0 349.4,481.7 350.6,487.8 351.2,478.8 351.9,487.3 353.1,481.4 353.8,490.0 355.0,477.5 355.6,488.1 356.9,475.8 358.1,483.3 358.8,471.2 359.5,494.5 360.1,472.7 361.1,489.1 361.8,467.5 362.4,489.5 364.4,477.5 365.0,489.5 365.6,474.4 366.9,484.5 367.5,470.0 369.2,500.0 370.0,470.0 370.6,486.8 373.1,477.7 373.8,488.0 375.0,471.2 375.6,484.7 377.7,476.7 379.4,488.8 380.0,473.8 380.3,490.0 380.9,476.9 382.3,486.3 383.1,479.8 384.4,485.5 385.0,473.0 385.3,486.2 385.9,478.1 387.3,483.8 388.9,477.2 390.6,484.4 391.2,477.5 392.5,486.2 393.6,479.3 395.0,494.5 396.2,475.0 396.9,490.3 398.6,478.7 400.6,488.8 401.2,477.5 401.6,493.0 402.2,478.3 403.5,488.1 404.4,481.4 405.6,489.6 406.2,478.0 407.0,493.8 407.6,481.2 410.6,487.7 411.2,476.2 411.9,488.6 413.1,480.1 413.8,498.8 415.8,470.5 417.5,493.3 418.8,472.5 419.1,498.0 419.7,478.3 420.8,493.3 422.2,479.7 423.1,490.3 423.8,480.0 425.0,503.0 425.6,481.1 428.1,494.6 428.8,480.0 430.0,496.2 430.6,483.0 431.9,494.4 432.5,476.2 433.1,490.7 434.4,480.8 435.0,497.5 435.6,480.3 436.9,493.4 437.5,479.5 438.1,496.9 439.4,483.9 440.1,498.9 441.4,484.6 442.0,505.5 442.5,480.0 443.1,500.2 444.5,484.4 445.5,496.5 446.9,482.6 447.5,498.8 448.8,477.5 449.4,491.0 450.5,482.0 452.0,494.5 453.1,486.1 453.8,498.8 455.0,482.5 455.6,495.2 456.9,484.4 458.3,493.3 459.4,481.0 460.0,500.0 461.2,472.5 461.9,496.6 464.4,483.6 465.0,500.5 466.2,481.2 466.9,496.8 469.4,486.2 470.0,505.0 472.0,465.5 473.3,494.0 475.0,478.8 476.2,499.5 476.9,485.0 479.4,498.0 480.0,485.0 480.6,500.7 483.1,487.7 483.8,503.0 484.4,488.4 485.6,498.9 486.2,483.8 486.9,497.4 488.3,484.7 489.4,498.4 490.0,480.5 491.2,509.5 491.9,486.5 494.4,506.1 495.0,482.5 496.2,506.2 498.8,477.5 500.4,500.7 502.5,482.5 502.8,503.8 503.4,489.4 505.6,502.2 506.2,486.2 506.9,501.1 509.4,490.6 510.0,502.5 512.5,488.8 513.8,510.0 515.2,493.1 517.5,511.2 519.5,478.8 520.1,505.8 523.1,481.7 523.8,515.0 525.0,480.5 527.5,513.8 529.2,463.0 531.2,518.8 533.8,477.5 534.5,542.0 535.1,474.3 537.4,512.0 538.0,463.0 540.0,526.2 542.0,469.5 542.6,513.6 545.1,463.4 545.8,531.2 547.0,441.2 548.8,526.2 551.2,482.5 552.5,500.0 555.0,475.0 555.6,501.4 557.4,481.8 558.0,522.0 560.0,476.2 560.6,499.7 562.6,467.9 563.2,528.8 564.5,453.8 565.4,509.1 566.2,450.0 568.0,535.5 570.5,446.2 572.5,510.0 573.8,461.2 574.4,502.9 576.9,474.3 577.5,498.8 578.8,456.2 580.0,491.7 581.8,451.2 583.8,516.2 584.4,451.7 586.4,510.7 587.0,448.8 588.8,515.0 591.2,398.8 593.5,514.9 595.0,458.8 596.8,528.0 597.4,444.9 600.1,500.8 600.8,393.8 601.4,489.3 603.1,436.8 603.8,507.5 605.5,412.5 607.8,487.5 609.5,440.0 610.0,510.0 610.6,448.1 613.1,503.6 613.8,456.2 615.0,512.0 617.5,396.2 620.0,500.0 621.2,445.0 623.8,555.0 624.5,426.2 625.1,477.4 626.9,439.1 627.5,488.8 629.5,427.5 632.0,549.0 633.0,423.8 634.5,555.5 635.8,422.0 636.4,531.7 637.6,437.6 639.4,505.5 640.0,437.5 641.2,530.0 643.8,433.0 646.2,497.5 648.0,441.2 650.8,522.5 652.0,431.2 652.6,481.6 654.4,460.3 655.0,495.0 656.2,453.8 658.8,540.0 660.0,428.0 660.6,491.6 662.3,450.6 663.9,500.2 664.5,452.5 665.0,497.5 665.6,453.0 668.1,500.6 668.8,432.5 670.6,498.9 672.5,439.5 673.8,510.0 675.0,442.8 676.2,518.8 678.2,443.0 678.9,496.6 680.5,472.8 681.9,486.5 682.5,462.5 682.8,490.0 683.4,467.1 686.4,487.5 687.0,424.5 687.5,503.8 688.1,439.7 690.6,488.4 691.2,450.0 693.0,495.0 694.5,447.5 695.0,498.8 695.6,457.6 697.6,499.1 698.2,448.0 700.0,542.0 701.2,432.5 701.9,528.2 704.4,472.9 705.0,511.2 705.8,451.2 706.4,493.0 708.1,455.5 709.4,485.3 710.0,456.2 710.3,510.0 710.9,460.3 713.6,515.5 714.2,443.0 714.5,529.5 715.1,465.1 718.1,514.9 718.8,458.8 720.0,513.8 722.5,433.0 723.8,515.0 726.2,460.0 727.0,500.0 729.5,466.2 730.5,502.0 731.1,467.9 733.1,505.0 733.8,461.2 735.0,512.0 735.6,471.6 738.1,502.6 738.8,463.8 740.5,515.5 743.0,467.0 743.8,513.0 744.4,471.8 746.9,497.6 747.5,456.2 748.8,502.0 751.2,461.2 753.8,506.2 754.4,474.5 756.4,501.1 757.0,460.0 758.8,507.5 761.2,453.8 763.8,491.2 765.0,468.8 765.6,491.0 769.4,463.2 770.0,505.0 770.5,450.0 771.1,499.8 773.0,463.3 774.4,481.0 775.0,465.0 776.2,492.5 778.2,462.5 780.8,521.8 781.4,466.5 783.6,503.5 784.2,459.5 786.2,509.5 786.9,467.7 788.9,490.0 789.5,466.2 790.5,493.8 791.1,476.0 794.9,490.0 795.5,462.5 797.5,493.8 798.1,467.8 800.6,491.1 801.2,454.5 802.5,493.8 803.1,473.0 805.6,493.5 806.2,456.2 808.0,516.2 809.5,456.2 811.2,504.4 813.0,443.8 813.8,498.8 814.4,461.6 816.9,488.4 817.5,462.5 820.0,493.8 822.5,470.0 825.0,487.5 827.5,458.8 828.1,495.5 829.9,467.8 830.5,508.8 832.0,470.0 833.5,489.4 835.8,462.5 836.2,490.0 836.9,470.3 840.6,489.1 841.2,456.2 842.0,499.5 842.6,462.3 845.1,488.2 845.8,466.2 847.5,490.0 850.0,471.2 852.3,490.7 853.8,463.8 855.0,498.0 855.6,469.8 859.4,487.6 860.0,461.2 861.2,485.0 863.8,467.5 865.0,482.5 865.6,463.0 867.4,485.7 868.0,454.5 868.6,490.9 870.6,464.7 871.2,502.5 872.5,463.8 873.1,494.9 874.6,461.5 876.4,493.2 877.0,454.5 878.0,498.0 878.6,460.0 880.6,493.8 881.2,461.2 883.8,496.2 886.2,463.8 886.9,491.0 888.9,467.6 889.5,503.0 891.8,458.0 892.4,494.5 894.3,457.4 896.1,495.5 896.8,440.8 898.8,500.0 900.5,455.0 901.1,492.2 903.1,465.0 903.8,487.5 905.0,456.2 905.6,479.8 907.0,464.3 908.9,476.9 909.5,452.0 910.0,482.5 910.6,457.9 912.6,473.3 913.2,445.8 914.8,477.4 917.0,446.2 918.8,479.5 920.0,445.0 921.7,470.1 923.8,437.0 925.0,473.8 927.0,441.2 928.8,475.1 931.2,448.8 933.8,480.5 936.2,451.2 937.5,471.8 939.5,451.2 940.0,477.5 940.6,452.8 943.1,474.1 943.8,452.0 944.4,473.9 947.6,455.4 948.2,488.0 949.5,456.2 951.4,481.0 953.8,462.5 954.0,480.0 954.7,463.8 956.9,474.6 957.5,462.0 960.0,480.0 961.2,458.8 962.5,481.2 963.2,447.0 964.1,481.6 965.2,461.2 966.8,487.0"/>
<!-- channel labels -->
<text id="l1" class="lb" transform="translate(32.5,100.9) scale(0.955,1)">STV HHZ</text>
<text id="l2" class="lb" transform="translate(32.5,274.2) scale(0.955,1)">STV HHN</text>
<text id="l3" class="lb" transform="translate(32.5,447.5) scale(0.955,1)">STV HHE</text>
<!-- picks -->
<line x1="260.8" x2="260.8" y1="47" y2="566.4" stroke="#ff1414" stroke-width="1.4"/>
<line x1="490.8" x2="490.8" y1="47" y2="566.4" stroke="#1414ff" stroke-width="1.4"/>
<!-- time axis -->
<line x1="31.8" x2="967.6" y1="566.4" y2="566.4" stroke="#000" stroke-width="1.2"/>
<g stroke="#000" stroke-width="3.2"><line x1="33.40" x2="33.40" y1="566.4" y2="590.8"/><line x1="44.00" x2="44.00" y1="566.4" y2="578.8"/><line x1="54.60" x2="54.60" y1="566.4" y2="578.8"/><line x1="65.20" x2="65.20" y1="566.4" y2="578.8"/><line x1="75.80" x2="75.80" y1="566.4" y2="578.8"/><line x1="86.39" x2="86.39" y1="566.4" y2="578.8"/><line x1="96.99" x2="96.99" y1="566.4" y2="578.8"/><line x1="107.59" x2="107.59" y1="566.4" y2="578.8"/><line x1="118.19" x2="118.19" y1="566.4" y2="590.8"/><line x1="128.79" x2="128.79" y1="566.4" y2="578.8"/><line x1="139.39" x2="139.39" y1="566.4" y2="578.8"/><line x1="149.99" x2="149.99" y1="566.4" y2="578.8"/><line x1="160.59" x2="160.59" y1="566.4" y2="578.8"/><line x1="171.18" x2="171.18" y1="566.4" y2="578.8"/><line x1="181.78" x2="181.78" y1="566.4" y2="578.8"/><line x1="192.38" x2="192.38" y1="566.4" y2="578.8"/><line x1="202.98" x2="202.98" y1="566.4" y2="590.8"/><line x1="213.58" x2="213.58" y1="566.4" y2="578.8"/><line x1="224.18" x2="224.18" y1="566.4" y2="578.8"/><line x1="234.78" x2="234.78" y1="566.4" y2="578.8"/><line x1="245.38" x2="245.38" y1="566.4" y2="578.8"/><line x1="255.97" x2="255.97" y1="566.4" y2="578.8"/><line x1="266.57" x2="266.57" y1="566.4" y2="578.8"/><line x1="277.17" x2="277.17" y1="566.4" y2="578.8"/><line x1="287.77" x2="287.77" y1="566.4" y2="590.8"/><line x1="298.37" x2="298.37" y1="566.4" y2="578.8"/><line x1="308.97" x2="308.97" y1="566.4" y2="578.8"/><line x1="319.57" x2="319.57" y1="566.4" y2="578.8"/><line x1="330.17" x2="330.17" y1="566.4" y2="578.8"/><line x1="340.76" x2="340.76" y1="566.4" y2="578.8"/><line x1="351.36" x2="351.36" y1="566.4" y2="578.8"/><line x1="361.96" x2="361.96" y1="566.4" y2="578.8"/><line x1="372.56" x2="372.56" y1="566.4" y2="590.8"/><line x1="383.16" x2="383.16" y1="566.4" y2="578.8"/><line x1="393.76" x2="393.76" y1="566.4" y2="578.8"/><line x1="404.36" x2="404.36" y1="566.4" y2="578.8"/><line x1="414.95" x2="414.95" y1="566.4" y2="578.8"/><line x1="425.55" x2="425.55" y1="566.4" y2="578.8"/><line x1="436.15" x2="436.15" y1="566.4" y2="578.8"/><line x1="446.75" x2="446.75" y1="566.4" y2="578.8"/><line x1="457.35" x2="457.35" y1="566.4" y2="590.8"/><line x1="467.95" x2="467.95" y1="566.4" y2="578.8"/><line x1="478.55" x2="478.55" y1="566.4" y2="578.8"/><line x1="489.15" x2="489.15" y1="566.4" y2="578.8"/><line x1="499.75" x2="499.75" y1="566.4" y2="578.8"/><line x1="510.34" x2="510.34" y1="566.4" y2="578.8"/><line x1="520.94" x2="520.94" y1="566.4" y2="578.8"/><line x1="531.54" x2="531.54" y1="566.4" y2="578.8"/><line x1="542.14" x2="542.14" y1="566.4" y2="590.8"/><line x1="552.74" x2="552.74" y1="566.4" y2="578.8"/><line x1="563.34" x2="563.34" y1="566.4" y2="578.8"/><line x1="573.94" x2="573.94" y1="566.4" y2="578.8"/><line x1="584.53" x2="584.53" y1="566.4" y2="578.8"/><line x1="595.13" x2="595.13" y1="566.4" y2="578.8"/><line x1="605.73" x2="605.73" y1="566.4" y2="578.8"/><line x1="616.33" x2="616.33" y1="566.4" y2="578.8"/><line x1="626.93" x2="626.93" y1="566.4" y2="590.8"/><line x1="637.53" x2="637.53" y1="566.4" y2="578.8"/><line x1="648.13" x2="648.13" y1="566.4" y2="578.8"/><line x1="658.73" x2="658.73" y1="566.4" y2="578.8"/><line x1="669.33" x2="669.33" y1="566.4" y2="578.8"/><line x1="679.92" x2="679.92" y1="566.4" y2="578.8"/><line x1="690.52" x2="690.52" y1="566.4" y2="578.8"/><line x1="701.12" x2="701.12" y1="566.4" y2="578.8"/><line x1="711.72" x2="711.72" y1="566.4" y2="590.8"/><line x1="722.32" x2="722.32" y1="566.4" y2="578.8"/><line x1="732.92" x2="732.92" y1="566.4" y2="578.8"/><line x1="743.52" x2="743.52" y1="566.4" y2="578.8"/><line x1="754.12" x2="754.12" y1="566.4" y2="578.8"/><line x1="764.71" x2="764.71" y1="566.4" y2="578.8"/><line x1="775.31" x2="775.31" y1="566.4" y2="578.8"/><line x1="785.91" x2="785.91" y1="566.4" y2="578.8"/><line x1="796.51" x2="796.51" y1="566.4" y2="590.8"/><line x1="807.11" x2="807.11" y1="566.4" y2="578.8"/><line x1="817.71" x2="817.71" y1="566.4" y2="578.8"/><line x1="828.31" x2="828.31" y1="566.4" y2="578.8"/><line x1="838.91" x2="838.91" y1="566.4" y2="578.8"/><line x1="849.50" x2="849.50" y1="566.4" y2="578.8"/><line x1="860.10" x2="860.10" y1="566.4" y2="578.8"/><line x1="870.70" x2="870.70" y1="566.4" y2="578.8"/><line x1="881.30" x2="881.30" y1="566.4" y2="590.8"/><line x1="891.90" x2="891.90" y1="566.4" y2="578.8"/><line x1="902.50" x2="902.50" y1="566.4" y2="578.8"/><line x1="913.10" x2="913.10" y1="566.4" y2="578.8"/><line x1="923.70" x2="923.70" y1="566.4" y2="578.8"/><line x1="934.29" x2="934.29" y1="566.4" y2="578.8"/><line x1="944.89" x2="944.89" y1="566.4" y2="578.8"/><line x1="955.49" x2="955.49" y1="566.4" y2="578.8"/><line x1="966.09" x2="966.09" y1="566.4" y2="590.8"/></g>
<g font-size="15.2px"><text transform="translate(33.40,606.2) scale(0.915,1)" text-anchor="middle">0</text><text transform="translate(118.19,606.2) scale(0.915,1)" text-anchor="middle">2</text><text transform="translate(202.98,606.2) scale(0.915,1)" text-anchor="middle">4</text><text transform="translate(287.77,606.2) scale(0.915,1)" text-anchor="middle">6</text><text transform="translate(372.56,606.2) scale(0.915,1)" text-anchor="middle">8</text><text transform="translate(457.35,606.2) scale(0.915,1)" text-anchor="middle">10</text><text transform="translate(542.14,606.2) scale(0.915,1)" text-anchor="middle">12</text><text transform="translate(626.93,606.2) scale(0.915,1)" text-anchor="middle">14</text><text transform="translate(711.72,606.2) scale(0.915,1)" text-anchor="middle">16</text><text transform="translate(796.51,606.2) scale(0.915,1)" text-anchor="middle">18</text><text transform="translate(881.30,606.2) scale(0.915,1)" text-anchor="middle">20</text><text transform="translate(966.09,606.2) scale(0.915,1)" text-anchor="middle">22</text></g>
<text id="xl" transform="translate(499.8,622.8) scale(0.92,1)" text-anchor="middle" font-size="18.2px">Time [s]</text>
</svg>
</body></html>
